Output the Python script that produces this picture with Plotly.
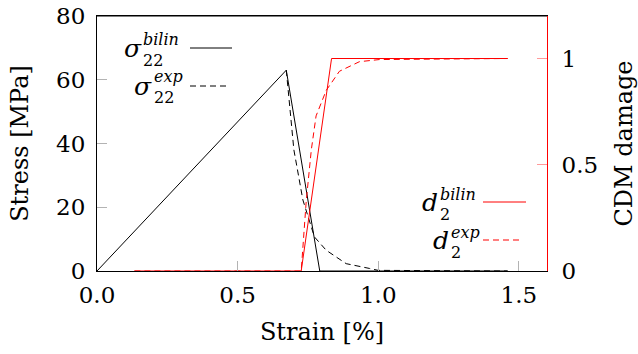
import plotly.graph_objects as go

# ---------------- data ----------------
strain_bilin_sigma = [0.0, 0.673, 0.792, 1.46]
stress_bilin = [0.0, 63.0, 0.0, 0.0]

strain_exp_sigma = [0.673, 0.690, 0.700, 0.732, 0.773, 0.815, 0.886, 0.969, 1.0, 1.46]
stress_exp = [63.0, 48.5, 38.0, 22.3, 10.7, 6.5, 2.3, 0.8, 0.2, 0.0]

strain_bilin_d = [0.133, 0.726, 0.834, 1.46]
damage_bilin = [0.0, 0.0, 1.0, 1.0]

strain_exp_d = [0.133, 0.726, 0.744, 0.762, 0.779, 0.815, 0.862, 0.933, 1.004, 1.46]
damage_exp = [0.0, 0.0, 0.33, 0.57, 0.73, 0.85, 0.94, 0.985, 0.995, 1.0]

x_ticks = [0.0, 0.5, 1.0, 1.5]
y_ticks = [0, 20, 40, 60, 80]
y2_ticks = [0, 0.5, 1]
y2_ticklabels = ["0", "0.5", "1"]

# ---------------- layout constants ----------------
W, H = 638, 354
ML, MR, MT, MB = 97, 91, 16, 83
PW, PH = W - ML - MR, H - MT - MB
FONT = "DejaVu Serif"


def pp(px, py):
    """pixel position -> paper coordinates"""
    return (px - ML) / PW, (H - MB - py) / PH


fig = go.Figure()
fig.add_trace(go.Scatter(x=strain_bilin_sigma, y=stress_bilin, mode="lines",
                         line=dict(color="black", width=1), showlegend=False))
fig.add_trace(go.Scatter(x=strain_exp_sigma, y=stress_exp, mode="lines",
                         line=dict(color="black", width=1, dash="6px,4px"), showlegend=False))
fig.add_trace(go.Scatter(x=strain_bilin_d, y=damage_bilin, mode="lines", yaxis="y2",
                         line=dict(color="red", width=1), showlegend=False))
fig.add_trace(go.Scatter(x=strain_exp_d, y=damage_exp, mode="lines", yaxis="y2",
                         line=dict(color="red", width=1, dash="6px,4px"), showlegend=False))

# ---------------- legend (text left, line sample right) ----------------
annotations = []
shapes = []


def legend_entry(base, sup, sub, base_r, sup_l, sub_l, line_x0, line_x1, line_y, color, dash):
    bx, by = pp(*base_r)
    annotations.append(dict(x=bx, y=by, xref="paper", yref="paper", text=f"<i>{base}</i>",
                            showarrow=False, xanchor="right", yanchor="middle",
                            font=dict(family=FONT, size=25, color="black")))
    sx, sy = pp(*sup_l)
    annotations.append(dict(x=sx, y=sy, xref="paper", yref="paper", text=f"<i>{sup}</i>",
                            showarrow=False, xanchor="left", yanchor="middle",
                            font=dict(family=FONT, size=16, color="black")))
    ux, uy = pp(*sub_l)
    annotations.append(dict(x=ux, y=uy, xref="paper", yref="paper", text=sub,
                            showarrow=False, xanchor="left", yanchor="middle",
                            font=dict(family=FONT, size=16, color="black")))
    x0, y0 = pp(line_x0, line_y)
    x1, _ = pp(line_x1, line_y)
    shapes.append(dict(type="line", xref="paper", yref="paper", x0=x0, x1=x1, y0=y0, y1=y0,
                       line=dict(color=color, width=1, dash=dash)))


legend_entry("σ", "bilin", "22", (144, 49), (141, 39), (141, 60), 190, 232, 48, "black", "solid")
legend_entry("σ", "exp", "22", (154, 86), (152, 76), (152, 97), 190, 228, 86, "black", "6px,4px")
legend_entry("d", "bilin", "2", (440, 202), (438, 194), (438, 214), 483, 526, 202, "red", "solid")
legend_entry("d", "exp", "2", (451, 240), (449, 232), (449, 252), 483, 520, 240, "red", "6px,4px")

# top frame line
shapes.append(dict(type="line", xref="paper", yref="paper", x0=0, x1=1, y0=1, y1=1,
                   line=dict(color="black", width=1)))

fig.update_layout(
    width=W, height=H,
    margin=dict(l=ML, r=MR, t=MT, b=MB, autoexpand=False),
    paper_bgcolor="white", plot_bgcolor="white",
    font=dict(family=FONT, size=23, color="black"),
    annotations=annotations, shapes=shapes,
    xaxis=dict(range=[0, 1.6], tickvals=x_ticks, tickformat=".1f",
               showgrid=False, zeroline=False,
               showline=True, linecolor="black", linewidth=1, mirror=True,
               ticks="inside", ticklen=10, tickcolor="#b3b3b3", tickwidth=1,
               ticklabelstandoff=3,
               title=dict(text="Strain [%]", font=dict(size=24), standoff=16)),
    yaxis=dict(range=[0, 80], tickvals=y_ticks,
               showgrid=False, zeroline=False,
               showline=True, linecolor="black", linewidth=1,
               ticks="inside", ticklen=10, tickcolor="#b3b3b3", tickwidth=1,
               ticklabelstandoff=6,
               title=dict(text="Stress [MPa]", font=dict(size=24), standoff=20)),
    yaxis2=dict(range=[0, 1.2], tickvals=y2_ticks, ticktext=y2_ticklabels,
                overlaying="y", side="right",
                showgrid=False, zeroline=False,
                showline=True, linecolor="red", linewidth=1,
                ticks="inside", ticklen=10, tickcolor="#ff9a9a", tickwidth=1,
                ticklabelstandoff=9,
                title=dict(text="CDM damage", font=dict(size=24), standoff=24)),
)

fig.write_html("out.html", config={"displayModeBar": False},
               post_script="document.body.style.margin='0';")
